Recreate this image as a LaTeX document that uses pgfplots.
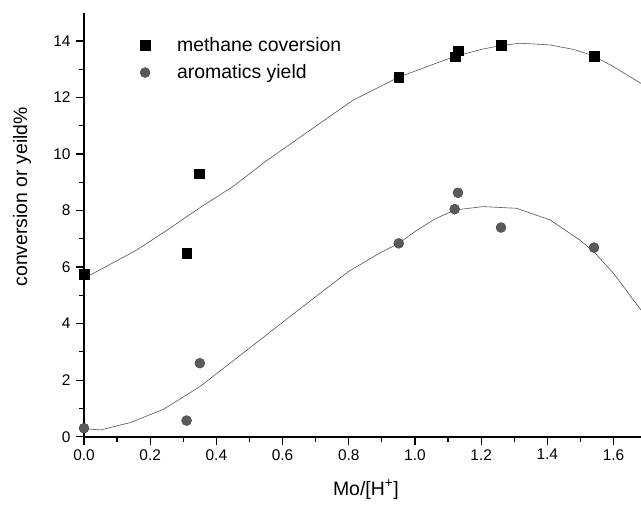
\documentclass[border=0pt]{standalone}
\usepackage{fontspec}
\setmainfont{Liberation Sans}
\usepackage{pgfplots}
\pgfplotsset{compat=1.18}
\definecolor{dotgray}{RGB}{90,90,90}
\definecolor{fitgray}{RGB}{85,85,85}
\begin{document}
\begin{tikzpicture}
\begin{axis}[
  at={(0,0)}, anchor=south west,
  scale only axis, width=557bp, height=424bp,
  xmin=0, xmax=1.683, ymin=0, ymax=15,
  axis x line*=bottom, axis y line*=left,
  axis line style={line width=1.8bp, black},
  xtick={0,0.2,0.4,0.6,0.8,1.0,1.2,1.4,1.6},
  ytick={0,2,4,6,8,10,12,14},
  minor x tick num=1, minor y tick num=1,
  tick align=outside,
  major tick length=8bp, minor tick length=5bp,
  every tick/.style={line width=1.2bp, black},
  /pgf/number format/assume math mode=true,
  tick label style={font=\fontsize{15.5}{18}\selectfont},
  x tick label style={yshift=-1bp, /pgf/number format/.cd, fixed, fixed zerofill, precision=1},
  y tick label style={xshift=-2bp, /pgf/number format/.cd, fixed, precision=0},
  xlabel={Mo/[H\textsuperscript{+}]},
  ylabel={conversion or yeild\%},
  label style={font=\fontsize{19.5}{22}\selectfont},
  xlabel style={at={(axis description cs:0.506,0)}, anchor=center, yshift=-53bp},
  ylabel style={at={(axis description cs:-0.1113,0.566)}, anchor=center},
  legend style={draw=none, fill=none, at={(axis description cs:0.095,0.952)}, anchor=north west,
    font=\fontsize{19.5}{22}\selectfont, row sep=8bp,
    /tikz/every odd column/.append style={column sep=25bp}},
  legend cell align=left,
  clip=true,
]
\addplot[only marks, mark=square*, mark size=4.8bp, mark options={fill=black, draw=black}]
  coordinates {(0,5.75) (0.31,6.5) (0.348,9.3) (0.951,12.72) (1.121,13.45) (1.13,13.65) (1.26,13.84) (1.541,13.47)};
\addlegendentry{methane coversion}
\addplot[only marks, mark=*, mark size=5bp, mark options={fill=dotgray, draw=dotgray!70!black}]
  coordinates {(0,0.3) (0.31,0.57) (0.35,2.6) (0.951,6.84) (1.12,8.05) (1.13,8.63) (1.26,7.4) (1.541,6.69)};
\addlegendentry{aromatics yield}
\addplot[fitgray, line width=0.6bp, forget plot] coordinates {
  (0,5.6) (0.1,6.23) (0.16,6.61) (0.25,7.3) (0.35,8.1) (0.45,8.85) (0.55,9.75)
  (0.713,11.09) (0.814,11.91) (0.951,12.72) (1.05,13.15) (1.12,13.45) (1.2,13.7)
  (1.26,13.84) (1.317,13.92) (1.408,13.86) (1.48,13.7) (1.54,13.47) (1.6,13.09) (1.683,12.5)};
\addplot[fitgray, line width=0.6bp, forget plot] coordinates {
  (0,0.28) (0.05,0.24) (0.14,0.5) (0.24,0.97) (0.35,1.77) (0.45,2.68) (0.55,3.59)
  (0.65,4.5) (0.713,5.07) (0.8,5.85) (0.894,6.5) (0.951,6.84) (1.005,7.3) (1.06,7.7)
  (1.12,8.02) (1.206,8.14) (1.307,8.08) (1.408,7.67) (1.498,6.96) (1.54,6.55)
  (1.6,5.78) (1.683,4.48)};
\end{axis}
\pgfresetboundingbox
\path[use as bounding box] (-84bp,-70.3bp) rectangle (557bp,436.7bp);
\end{tikzpicture}
\end{document}
